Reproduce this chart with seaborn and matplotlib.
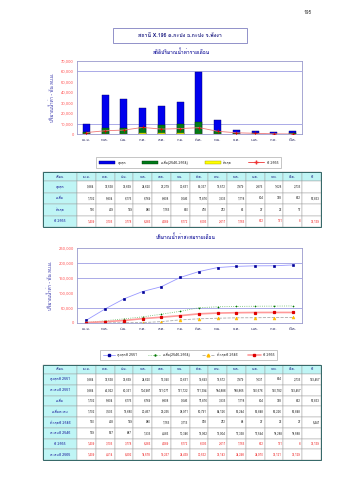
import matplotlib
matplotlib.use('Agg')
import matplotlib.pyplot as plt
import seaborn as sns
import pandas as pd
from matplotlib import font_manager
from matplotlib.patches import Rectangle, Patch
from matplotlib.lines import Line2D

# ---------------- data ----------------
months = ['เม.ย.', 'พ.ค.', 'มิ.ย.', 'ก.ค.', 'ส.ค.', 'ก.ย.', 'ต.ค.', 'พ.ย.', 'ธ.ค.', 'ม.ค.', 'ก.พ.', 'มี.ค.']
max_m = [9384, 37538, 33669, 24620, 27279, 30651, 59337, 13512, 3979, 2875, 1628, 2735]
avg_m = [1702, 5804, 6175, 6769, 8808, 9646, 11876, 3335, 1118, 604, 378, 622]
min_m = [166, 429, 129, 980, 1155, 850, 418, 212, 65, 27, 22, 17]
y2565 = [1409, 3105, 3778, 6286, 4689, 5172, 6093, 2611, 1155, 672, 151, 8]
avg_total = 57833
y2565_total = 35139

max2551 = [9384, 37538, 33669, 24620, 16090, 30651, 19693, 13512, 3979, 1631, 624, 2735]
max2551_total = 193457
cum2551 = [9384, 46922, 80361, 104981, 121071, 151722, 171394, 184888, 188865, 190576, 190782, 193457]
cum_avg = [1702, 7506, 13680, 20457, 29265, 38911, 50791, 54126, 55244, 55848, 56226, 56848]
min2546 = [160, 428, 129, 980, 1155, 3115, 918, 212, 68, 27, 22, 27]
min2546_total = 5441
cum2546 = [169, 527, 887, 1335, 4586, 10346, 13962, 15904, 17368, 17594, 18288, 18588]
cum2565 = [1409, 4514, 8292, 14578, 19267, 24439, 30532, 33143, 34298, 34970, 35121, 35129]

legend1 = ['สูงสุด', 'เฉลี่ย(2546-2564)', 'ต่ำสุด', 'ปี 2565']
legend2 = ['สูงสุดปี 2551', 'เฉลี่ย(2546-2564)', 'ต่ำสุดปี 2546', 'ปี 2565']
table1_labels = ['สูงสุด', 'เฉลี่ย', 'ต่ำสุด', 'ปี 2565']
table2_labels = ['สูงสุดปี 2551', 'สะสมปี 2551', 'เฉลี่ย', 'เฉลี่ยสะสม',
                 'ต่ำสุดปี 2546', 'สะสมปี 2546', 'ปี 2565', 'สะสมปี 2565']
title_text = 'สถานี X.196 ค.กะปง อ.กะปง จ.พังงา'
sub1 = 'สถิติปริมาณน้ำท่ารายเดือน'
sub2 = 'ปริมาณน้ำท่าสะสมรายเดือน'
ylab = 'ปริมาณน้ำท่า - พัน ลบ.ม.'

# ---------------- fonts ----------------
sns.set_style('white')


def thai_family():
    try:
        from fontTools.ttLib import TTFont
    except Exception:
        return None
    for f in font_manager.fontManager.ttflist:
        try:
            tt = TTFont(f.fname, fontNumber=0, lazy=True)
            cmap = tt.getBestCmap()
            if cmap and 0x0E01 in cmap and 0x0E32 in cmap:
                return f.name
        except Exception:
            continue
    return None


tf = thai_family()
fams = ([tf] if tf else []) + ['DejaVu Sans']
plt.rcParams['font.family'] = fams

W, H = 339, 480
fig = plt.figure(figsize=(W / 100, H / 100), dpi=100)
bg = fig.add_axes([0, 0, 1, 1])
bg.set_xlim(0, W)
bg.set_ylim(H, 0)
bg.axis('off')

NAVY = '#1a1a80'
SP = '#9999cc'

bg.text(308, 12, '195', fontsize=3.5, ha='center', va='center', color='#333333')
bg.add_patch(Rectangle((113, 28), 134, 15, fill=False, edgecolor='#8080c0', lw=0.6))
bg.text(180, 35.5, title_text, fontsize=3.8, ha='center', va='center', color=NAVY, fontweight='bold')
bg.text(181, 52, sub1, fontsize=3.5, ha='center', va='center', color='#2020a0', fontweight='bold')
bg.text(186, 237, sub2, fontsize=3.5, ha='center', va='center', color='#2020a0', fontweight='bold')


def fmt(v):
    return f'{v:,}' if v != '' else ''


def style_axes(ax, ymax, step, grid):
    ax.set_ylim(0, ymax)
    ax.set_yticks(range(0, ymax + 1, step))
    ax.set_yticklabels([f'{t:,}' for t in range(0, ymax + 1, step)])
    for g in grid:
        ax.axhline(g, color='#8888dd', lw=0.5, zorder=0)
    for s in ax.spines.values():
        s.set_color(SP)
        s.set_linewidth(0.6)
    ax.tick_params(axis='y', labelsize=3, colors='#ff4444', length=1.2, width=0.4, pad=1)
    ax.tick_params(axis='x', labelsize=3, colors='#333366', length=0, pad=3)
    for lab in ax.get_yticklabels():
        lab.set_color('#ff5555')
    ax.set_xlabel('')
    ax.set_ylabel(ylab, fontsize=3.3, color='#3333aa', labelpad=4)


# ---------------- chart 1 ----------------
df1 = pd.DataFrame({'month': months, 'max': max_m, 'avg': avg_m, 'min': min_m, 'y2565': y2565})
ax1 = fig.add_axes([77 / W, 1 - 134 / H, 225 / W, 73 / H])
sns.barplot(data=df1, x='month', y='max', color='#0000ee', width=0.38, saturation=1,
            edgecolor='#000066', linewidth=0.3, ax=ax1, zorder=2)
sns.barplot(data=df1, x='month', y='avg', color='#007a1a', width=0.38, saturation=1,
            edgecolor='#003300', linewidth=0.3, ax=ax1, zorder=3)
sns.barplot(data=df1, x='month', y='min', color='#ffff00', width=0.38, saturation=1,
            edgecolor='#999900', linewidth=0.3, ax=ax1, zorder=4)
sns.pointplot(data=df1, x='month', y='y2565', color='#ee7777', markers='+', linestyles='-',
              errorbar=None, markersize=2.5, linewidth=0.6, ax=ax1, zorder=5)
ax1.lines[-1].set_markeredgecolor('#dd0000')
style_axes(ax1, 70000, 10000, [10000, 60000])

h1 = [Patch(facecolor='#0000ee', edgecolor='#000066', lw=0.3),
      Patch(facecolor='#007a1a', edgecolor='#003300', lw=0.3),
      Patch(facecolor='#ffff00', edgecolor='#999900', lw=0.3),
      Line2D([], [], color='#ee3333', marker='+', lw=0.6, markersize=2.5)]
lg1 = fig.legend(h1, legend1, loc='center', bbox_to_anchor=(188.5 / W, 1 - 162.5 / H), ncol=4,
                 fontsize=2.6, frameon=True, fancybox=False, edgecolor='#999999',
                 handlelength=4.5, handleheight=1.0, columnspacing=4.5, handletextpad=0.6,
                 borderpad=0.8)
lg1.get_frame().set_linewidth(0.5)

# ---------------- chart 2 ----------------
df2 = pd.DataFrame({'month': months, 'c2551': cum2551, 'cavg': cum_avg, 'c2546': cum2546, 'c2565': cum2565})
ax2 = fig.add_axes([77 / W, 1 - 323 / H, 225 / W, 75 / H])
series2 = [
    ('c2551', '#9999ff', '#000099', 's', '-', 0.6),
    ('cavg', '#66bb66', '#007700', '+', ':', 0.6),
    ('c2546', '#aaaaaa', '#ffbb00', '^', '--', 0.6),
    ('c2565', '#ff9999', '#dd0000', 's', '-', 1.2),
]
for col, lc, mc, mk, ls, lw in series2:
    sns.pointplot(data=df2, x='month', y=col, color=lc, markers=mk, linestyles=ls,
                  errorbar=None, markersize=2.0, linewidth=lw, ax=ax2)
    ln = ax2.lines[-1]
    ln.set_markeredgecolor(mc)
    ln.set_markerfacecolor(mc)
style_axes(ax2, 250000, 50000, [50000, 150000, 200000])

h2 = [Line2D([], [], color=lc, marker=mk, ls=ls, lw=lw, markersize=2.0,
             markerfacecolor=mc, markeredgecolor=mc) for _, lc, mc, mk, ls, lw in series2]
lg2 = fig.legend(h2, legend2, loc='center', bbox_to_anchor=(188.5 / W, 1 - 355 / H), ncol=4,
                 fontsize=2.6, frameon=True, fancybox=False, edgecolor='#999999',
                 handlelength=3.5, columnspacing=3.0, handletextpad=0.6, borderpad=0.8)
lg2.get_frame().set_linewidth(0.5)

# ---------------- tables ----------------
col_edges = [43, 77] + [77 + 18.75 * (i + 1) for i in range(12)] + [321]
CYAN = '#bff5f5'


def draw_table(top, header_h, row_h, labels, rows, totals, red_from):
    # header
    heads = ['เดือน'] + months + ['ปี']
    y = top
    for j, h in enumerate(heads):
        x0, x1 = col_edges[j], col_edges[j + 1]
        bg.add_patch(Rectangle((x0, y), x1 - x0, header_h, facecolor=CYAN, edgecolor='#999999', lw=0.3))
        bg.text((x0 + x1) / 2, y + header_h / 2, h, fontsize=2.6, ha='center', va='center', color=NAVY)
    y += header_h
    for i, (lab, vals, tot) in enumerate(zip(labels, rows, totals)):
        rh = row_h[i]
        tc = '#ee2222' if i >= red_from else '#222222'
        lc = '#1a1a99'
        bg.add_patch(Rectangle((col_edges[0], y), col_edges[1] - col_edges[0], rh,
                               facecolor=CYAN, edgecolor='#999999', lw=0.3))
        bg.text((col_edges[0] + col_edges[1]) / 2, y + rh / 2, lab, fontsize=2.6,
                ha='center', va='center', color=lc)
        cells = [fmt(v) for v in vals] + [fmt(tot)]
        for j, c in enumerate(cells):
            x0, x1 = col_edges[j + 1], col_edges[j + 2]
            bg.add_patch(Rectangle((x0, y), x1 - x0, rh, facecolor='white', edgecolor='#999999', lw=0.3))
            bg.text(x1 - 1.2, y + rh / 2, c, fontsize=2.1, ha='right', va='center', color=tc)
        y += rh
    bg.add_patch(Rectangle((col_edges[0], top), col_edges[-1] - col_edges[0], y - top,
                           fill=False, edgecolor='#336666', lw=0.7))


draw_table(172, 9, [11.5] * 4, table1_labels,
           [max_m, avg_m, min_m, y2565], ['', avg_total, '', y2565_total], red_from=3)

draw_table(365, 9, [10.75] * 8, table2_labels,
           [max2551, cum2551, avg_m, cum_avg, min2546, cum2546, y2565, cum2565],
           [max2551_total, '', avg_total, '', min2546_total, '', y2565_total, ''], red_from=6)

fig.savefig('out.png', dpi=100)
